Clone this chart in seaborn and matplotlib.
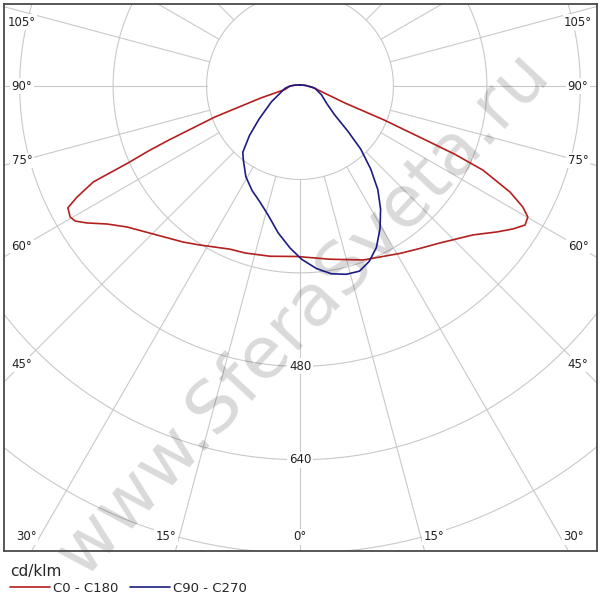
import numpy as np
import pandas as pd
import matplotlib
matplotlib.use("Agg")
import matplotlib.pyplot as plt
import seaborn as sns

# ---- data (gamma angle in degrees, 0 = straight down; intensity in cd/klm) ----
c0_angles = [-180, -99, -90, -77, -73, -70, -67.6, -66.8, -65.9, -65.1, -63.5, -62.3,
             -60.3, -59.0, -57.3, -54.4, -50.8, -45.6, -36.9, -32.7, -23.2, -18.2, -10,
             -1.1, 9.8, 20, 30.9, 35.7, 41.7, 49.3, 53.5, 56.1, 58.3, 60.1, 61.5, 63.2,
             65.3, 66.2, 66.8, 68, 69.3, 77.5, 85, 95, 180]
c0_values = [2, 9, 17, 26, 70, 155, 243, 282, 322, 390, 427, 449,
             453, 449, 434, 406, 382, 360, 334, 323, 304, 301, 296,
             292, 301, 317, 334, 344, 360, 391, 420, 439, 453, 450, 434, 403,
             345, 290, 228, 155, 82, 32, 21, 10, 2]

c90_angles = [-180, -99, -90, -81.3, -61, -51.1, -45.6, -40.8, -37.3, -30.8, -24.6,
              -19.1, -13.8, -8.5, -3.5, 0.6, 5.2, 9.5, 13.8, 17.8, 21.5, 25.3, 29.3,
              33.2, 36.9, 40.4, 43.9, 46.6, 50.4, 57.1, 67.5, 81.3, 95, 180]
c90_values = [2, 9, 17, 26, 56, 90, 121, 150, 160, 181, 197,
              210, 228, 254, 278, 297, 314, 326, 332, 333, 323, 306, 280,
              252, 222, 187, 150, 113, 76, 54, 40, 26, 10, 2]

series_names = ["C0 - C180", "C90 - C270"]
ring_values = [160, 320, 480, 640, 800, 960]
ring_labels = ["480", "640"]
angle_ticks = [0, 15, 30, 45, 60, 75, 90, 105]
unit_label = "cd/klm"
watermark = "www.SferaSveta.ru"

# ---- build table ----
rows = []
for name, angs, vals in [(series_names[0], c0_angles, c0_values),
                         (series_names[1], c90_angles, c90_values)]:
    a = np.radians(np.array(angs, dtype=float))
    v = np.array(vals, dtype=float)
    for i in range(len(a)):
        rows.append({"series": name, "order": i,
                     "x": v[i] * np.sin(a[i]), "y": -v[i] * np.cos(a[i])})
df = pd.DataFrame(rows)

# ---- figure / axes ----
sns.set_theme(style="white")
plt.rcParams["font.family"] = ["DejaVu Sans"]
fig = plt.figure(figsize=(6, 6), dpi=100)
ax = fig.add_axes([4 / 600, 49 / 600, 593 / 600, 547 / 600])
S = 0.584  # px per cd/klm
XMIN, XMAX = (4 - 300) / S, (597 - 300) / S
YMAX, YMIN = (86 - 4) / S, -(551 - 86) / S
ax.set_xlim(XMIN, XMAX)
ax.set_ylim(YMIN, YMAX)
ax.set_xticks([])
ax.set_yticks([])
for sp in ax.spines.values():
    sp.set_visible(True)
    sp.set_color("#4a4a4a")
    sp.set_linewidth(1.3)

gcol = "#c9c9c9"
t = np.linspace(0, 2 * np.pi, 721)
for r in ring_values:
    ax.plot(r * np.cos(t), r * np.sin(t), color=gcol, lw=0.8, zorder=1)
for a in range(0, 360, 15):
    ar = np.radians(a)
    ax.plot([160 * np.sin(ar), 1400 * np.sin(ar)], [-160 * np.cos(ar), -1400 * np.cos(ar)],
            color=gcol, lw=0.8, zorder=1)

# watermark
ax.text(3 / S, -(314 - 86) / S, watermark, rotation=47, ha="center", va="center",
        rotation_mode="anchor", fontsize=52, color="black", alpha=0.15,
        zorder=2, clip_on=False)

sns.lineplot(data=df, x="x", y="y", hue="series", hue_order=series_names,
             palette={series_names[0]: "#b3201e", series_names[1]: "#1c1c82"},
             sort=False, estimator=None, units="series", lw=1.2, ax=ax, zorder=3)
ax.set_xlabel("")
ax.set_ylabel("")

# ring labels
bb = dict(facecolor="white", edgecolor="none", pad=1.0)
for lab in ring_labels:
    ax.text(0, -float(lab), lab, ha="center", va="center", fontsize=8.5,
            color="#222222", bbox=bb, zorder=4)

# angle labels
XL, XR = (22 - 300) / S, (578 - 300) / S
YB, YT = -(537 - 86) / S, -(22 - 86) / S
for a in angle_ticks:
    for side in ([0] if a == 0 else [-1, 1]):
        ar = np.radians(a)
        dx, dy = np.sin(ar) * (side if side else 1), -np.cos(ar)
        tx = abs(XR / dx) if abs(dx) > 1e-9 else np.inf
        ty = abs(YB / dy) if dy < -1e-9 else np.inf
        if ty < tx:
            px, py = ty * dx, YB
            ha = "center" if side == 0 else ("right" if side < 0 else "left")
            px += (-3 if side < 0 else 3) / S if side else 0
        else:
            px = XL if side < 0 else XR
            py = min(max(tx * dy, YB), YT)
            ha = "center"
        ax.text(px, py, f"{a}°", ha=ha, va="center", fontsize=8.5,
                color="#222222", bbox=bb, zorder=4)

# legend
handles, labels = ax.get_legend_handles_labels()
if ax.get_legend() is not None:
    ax.get_legend().remove()
leg = ax.legend(handles, labels, loc="upper left", bbox_to_anchor=(1 / 600, 1 - 555 / 600),
                bbox_transform=fig.transFigure, ncol=2, frameon=False, title=unit_label,
                alignment="left", fontsize=9.5, title_fontsize=11, handlelength=3.0,
                handletextpad=0.25, columnspacing=0.9, borderpad=0.2, labelspacing=0.2)
for lh in leg.get_lines():
    lh.set_linewidth(1.2)

fig.savefig("out.png", dpi=100)
